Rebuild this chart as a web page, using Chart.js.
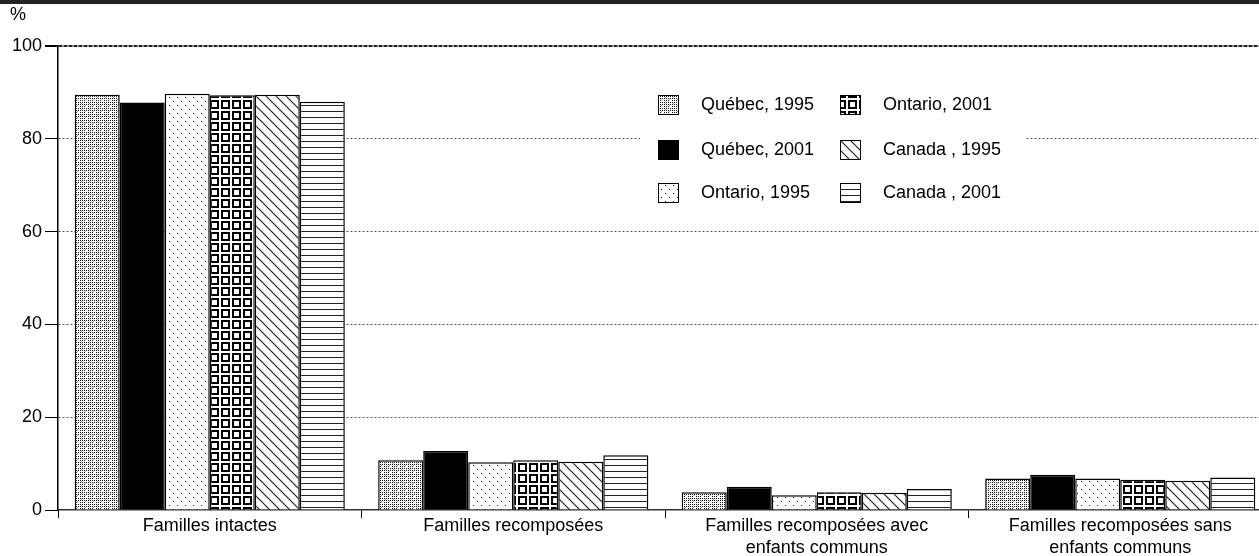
<!DOCTYPE html>
<html>
<head>
<meta charset="utf-8">
<script src="https://cdn.jsdelivr.net/npm/chart.js@4"></script>
<style>
  html, body { margin: 0; padding: 0; background: #fff; overflow: hidden; }
  #wrap { position: relative; width: 1275px; height: 556px; }
  #band { position: absolute; left: 0; top: 0; width: 1275px; height: 4px; background: #222; }
  #pct { position: absolute; left: 10px; top: 4px; font: 18px "Liberation Sans", Arial, sans-serif; color: #000; }
</style>
</head>
<body>
<div id="wrap">
  <canvas id="chart" width="1275" height="556"></canvas>
  <div id="band"></div>
  <div id="pct">%</div>
</div>
<script>
// data (%)
var categories = [
  'Familles intactes',
  'Familles recomposées',
  ['Familles recomposées avec', 'enfants communs'],
  ['Familles recomposées sans', 'enfants communs']
];
var quebec1995 = [89.5, 10.7, 3.8, 6.8];
var quebec2001 = [87.8, 12.7, 5.0, 7.6];
var ontario1995 = [89.7, 10.3, 3.2, 6.8];
var ontario2001 = [89.4, 10.7, 3.8, 6.5];
var canada1995 = [89.5, 10.4, 3.7, 6.3];
var canada2001 = [88.0, 11.8, 4.5, 7.0];
var yTicks = [0, 20, 40, 60, 80, 100];

var FONT = '"Liberation Sans", Arial, sans-serif';

function makePattern(w, h, draw) {
  var c = document.createElement('canvas');
  c.width = w; c.height = h;
  var g = c.getContext('2d');
  g.fillStyle = '#fff';
  g.fillRect(0, 0, w, h);
  draw(g);
  return document.getElementById('chart').getContext('2d').createPattern(c, 'repeat');
}

// fine stipple
var patQ95 = makePattern(8, 6, function (g) {
  g.fillStyle = '#111';
  for (var x = 0; x < 8; x += 2) {
    for (var y = 0; y < 6; y += 2) {
      if (!(x === 6 && y === 4)) g.fillRect(x, y, 1, 1);
    }
  }
  g.fillStyle = '#999';
  g.fillRect(1, 1, 1, 1);
  g.fillRect(5, 3, 1, 1);
});
// sparse dots
var patO95 = makePattern(8, 8, function (g) {
  g.fillStyle = '#222';
  g.fillRect(1, 1, 1, 1);
  g.fillRect(5, 5, 1, 1);
});
// boxed squares
var patO01 = makePattern(11, 11, function (g) {
  g.fillStyle = '#000';
  g.fillRect(1, 1, 9, 9);
  g.fillStyle = '#fff';
  g.fillRect(3, 3, 5, 5);
});
// backslash hatching
var patC95 = makePattern(10, 10, function (g) {
  g.strokeStyle = '#222';
  g.lineWidth = 1.2;
  g.beginPath();
  g.moveTo(-1, -1); g.lineTo(11, 11);
  g.moveTo(-1, 9); g.lineTo(1, 11);
  g.moveTo(9, -1); g.lineTo(11, 1);
  g.stroke();
});
// horizontal lines
var patC01 = makePattern(6, 6, function (g) {
  g.fillStyle = '#222';
  g.fillRect(0, 3, 6, 1);
});

var boxLegend = {
  id: 'boxLegend',
  afterDraw: function (chart) {
    var ctx = chart.ctx;
    var rows = [105, 150, 193];
    ctx.save();
    ctx.fillStyle = '#fff';
    ctx.fillRect(640, 84, 386, 130);
    ctx.font = '18px ' + FONT;
    ctx.textBaseline = 'middle';
    chart.data.datasets.forEach(function (ds, i) {
      var col = Math.floor(i / 3);
      var x = col ? 840 : 658;
      var y = rows[i % 3];
      ctx.fillStyle = ds.backgroundColor;
      ctx.fillRect(x, y - 10, 21, 20);
      ctx.strokeStyle = '#000';
      ctx.lineWidth = 1;
      ctx.strokeRect(x + 0.5, y - 9.5, 20, 19);
      ctx.fillStyle = '#000';
      ctx.fillText(ds.label, x + 43, y);
    });
    ctx.restore();
  }
};

function barSet(label, data, fill) {
  return {
    label: label,
    data: data,
    backgroundColor: fill,
    borderColor: '#000',
    borderWidth: 1.5,
    borderSkipped: 'bottom'
  };
}

new Chart(document.getElementById('chart'), {
  type: 'bar',
  data: {
    labels: categories,
    datasets: [
      barSet('Québec, 1995', quebec1995, patQ95),
      barSet('Québec, 2001', quebec2001, '#000'),
      barSet('Ontario, 1995', ontario1995, patO95),
      barSet('Ontario, 2001', ontario2001, patO01),
      barSet('Canada , 1995', canada1995, patC95),
      barSet('Canada , 2001', canada2001, patC01)
    ]
  },
  options: {
    responsive: false,
    animation: false,
    devicePixelRatio: 1,
    layout: { padding: { top: 46, right: 3, left: 0, bottom: 0 } },
    datasets: { bar: { categoryPercentage: 0.89, barPercentage: 1 } },
    plugins: {
      legend: { display: false },
      tooltip: { enabled: false }
    },
    scales: {
      x: {
        grid: {
          offset: true,
          drawOnChartArea: false,
          drawTicks: true,
          tickLength: 8,
          tickColor: '#000'
        },
        border: { color: '#333', width: 1.5 },
        ticks: {
          color: '#000',
          font: { family: FONT, size: 18, lineHeight: 1.17 },
          padding: -2,
          maxRotation: 0,
          autoSkip: false
        },
        afterFit: function (s) { s.height = 46; }
      },
      y: {
        min: 0,
        max: 100,
        afterBuildTicks: function (s) {
          s.ticks = yTicks.map(function (v) { return { value: v }; });
        },
        grid: {
          color: function (c) {
            if (!c.tick || c.tick.value === 0) return 'rgba(0,0,0,0)';
            return c.tick.value === 100 ? '#222' : '#555';
          },
          lineWidth: function (c) { return c.tick && c.tick.value === 100 ? 2 : 1; },
          tickColor: '#000',
          tickLength: 13
        },
        border: {
          color: '#000',
          width: 1.5,
          dash: function (c) {
            if (!c.tick) return [];
            return c.tick.value === 100 ? [4, 1] : [2, 2];
          }
        },
        ticks: {
          color: '#000',
          font: { family: FONT, size: 18 },
          padding: 3
        },
        afterFit: function (s) { s.width = 58; }
      }
    }
  },
  plugins: [boxLegend]
});
</script>
</body>
</html>
